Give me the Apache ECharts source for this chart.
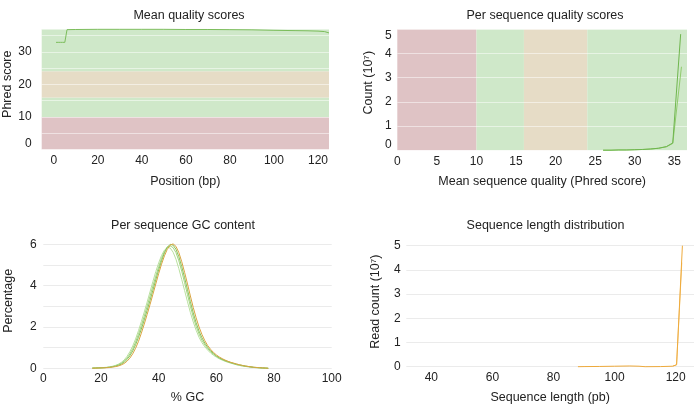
<!DOCTYPE html>
<html><head><meta charset="utf-8">
<script src="https://cdn.jsdelivr.net/npm/echarts@6.0.0/dist/echarts.min.js"></script>
<style>html,body{margin:0;padding:0;background:#fff}#c{width:697px;height:405px}</style>
</head><body><div id="c"></div>
<script>
// ---- Data ----
// Mean quality scores (position bp, mean phred)
const posX  = [1, 2, 3, 4, 5, 6, 10, 20, 30, 40, 50, 60, 70, 80, 90, 100, 110, 115, 120, 123, 125];
const meanQ = [32.9, 32.9, 32.9, 32.9, 32.9, 36.8, 36.85, 36.9, 36.9, 36.9, 36.9, 36.85, 36.85, 36.8, 36.75, 36.6, 36.5, 36.45, 36.35, 36.2, 35.8];
// Phred band thresholds (shared by the two quality charts)
const phredBands = [0, 10, 16, 24];
// Per sequence quality scores (mean phred, count 10^7), two samples
const seqQX1 = [26, 27, 28, 29, 30, 31, 32, 33, 34, 34.8, 35.8];
const seqQY1 = [0.0, 0.0, 0.01, 0.01, 0.02, 0.03, 0.05, 0.08, 0.15, 0.3, 4.8];
const seqQX2 = [26, 27, 28, 29, 30, 31, 32, 33, 34, 34.8, 35.9];
const seqQY2 = [0.0, 0.0, 0.01, 0.01, 0.02, 0.03, 0.05, 0.08, 0.14, 0.28, 3.45];
// Per sequence GC content (%GC 17..78, percentage)
const gcX = [17,18,19,20,21,22,23,24,25,26,27,28,29,30,31,32,33,34,35,36,37,38,39,40,41,42,43,44,45,46,47,48,49,50,51,52,53,54,55,56,57,58,59,60,61,62,63,64,65,66,67,68,69,70,71,72,73,74,75,76,77,78];
const gcA = [0.01,0.01,0.02,0.02,0.03,0.04,0.05,0.07,0.10,0.14,
             0.20,0.29,0.42,0.60,0.84,1.14,1.50,1.90,2.34,2.80,
             3.28,3.78,4.28,4.76,5.20,5.58,5.86,6.00,5.96,5.76,
             5.40,4.92,4.38,3.80,3.22,2.68,2.20,1.80,1.48,1.22,
             1.02,0.86,0.72,0.60,0.51,0.44,0.38,0.33,0.28,0.24,
             0.20,0.17,0.14,0.11,0.09,0.07,0.05,0.04,0.03,0.02,
             0.01,0.00];
const gcB = [0.01,0.02,0.02,0.03,0.04,0.05,0.07,0.10,0.14,0.20,
             0.28,0.40,0.57,0.80,1.08,1.42,1.82,2.26,2.72,3.20,
             3.70,4.20,4.68,5.10,5.46,5.72,5.85,5.82,5.62,5.28,
             4.82,4.30,3.76,3.22,2.70,2.24,1.84,1.50,1.24,1.04,
             0.88,0.74,0.63,0.54,0.46,0.40,0.34,0.29,0.25,0.21,
             0.17,0.14,0.11,0.09,0.07,0.05,0.04,0.03,0.02,0.01,
             0.01,0.00];
const gcC = [0.01,0.01,0.02,0.02,0.03,0.04,0.06,0.08,0.12,0.17,
             0.24,0.34,0.49,0.69,0.95,1.27,1.65,2.07,2.52,3.00,
             3.49,3.98,4.46,4.92,5.32,5.65,5.86,5.92,5.84,5.60,
             5.20,4.70,4.14,3.56,3.00,2.48,2.03,1.66,1.36,1.13,
             0.95,0.80,0.68,0.58,0.49,0.42,0.36,0.31,0.26,0.22,
             0.18,0.15,0.12,0.10,0.08,0.06,0.04,0.03,0.02,0.01,
             0.01,0.00];
const gcD = [0.00,0.01,0.01,0.02,0.02,0.03,0.04,0.06,0.08,0.11,
             0.16,0.23,0.34,0.49,0.70,0.97,1.30,1.70,2.14,2.60,
             3.08,3.58,4.08,4.58,5.04,5.44,5.76,5.96,6.02,5.90,
             5.60,5.16,4.64,4.08,3.50,2.94,2.44,2.00,1.64,1.34,
             1.10,0.92,0.77,0.65,0.55,0.47,0.40,0.34,0.29,0.25,
             0.21,0.17,0.14,0.11,0.09,0.07,0.05,0.04,0.03,0.02,
             0.01,0.00];
// Sequence length distribution (length pb, read count 10^7)
const lenX1 = [88, 90, 95, 100, 105, 108, 110, 115, 119, 120.3, 122.2];
const lenY1 = [0.0, 0.005, 0.01, 0.02, 0.03, 0.02, 0.0, 0.005, 0.02, 0.08, 5.0];
const lenX2 = [119, 120.3, 122.0];
const lenY2 = [0.02, 0.08, 4.3];
// Tick labels
const posTicks = [0, 20, 40, 60, 80, 100, 120];
const lenTicks = [40, 60, 80, 100, 120];

// ---- Styles ----
const FONT = '"Liberation Sans", Arial, Helvetica, sans-serif';
const TXT = '#222';
const RED = '#dfc3c5', GREEN = '#cfe8c9', BEIGE = '#e6dcc6';
const bandColors = [RED, GREEN, BEIGE, GREEN];
const zip = (xs, ys) => xs.map((x, i) => [x, ys[i]]);

function bandAreas(dim, maxVal) {
  const edges = phredBands.concat([maxVal]);
  const out = [];
  for (let i = 0; i < phredBands.length; i++) {
    const a = {}; a[dim] = edges[i]; a.itemStyle = {color: bandColors[i], opacity: 1};
    const b = {}; b[dim] = edges[i + 1];
    out.push([a, b]);
  }
  return out;
}

const lbl = (extra) => Object.assign({color: TXT, fontSize: 12, fontFamily: FONT}, extra || {});
const nameStyle = (extra) => Object.assign({color: TXT, fontSize: 12.5, fontFamily: FONT}, extra || {});
const noLine = {show: false};

const option = {
  animation: false,
  textStyle: {fontFamily: FONT},
  title: [
    {text: 'Mean quality scores', left: 189, top: 9, textAlign: 'center', padding: 0,
     textStyle: {fontSize: 12.5, fontWeight: 'normal', color: TXT, fontFamily: FONT}},
    {text: 'Per sequence quality scores', left: 545, top: 9, textAlign: 'center', padding: 0,
     textStyle: {fontSize: 12.5, fontWeight: 'normal', color: TXT, fontFamily: FONT}},
    {text: 'Per sequence GC content', left: 183, top: 219.5, textAlign: 'center', padding: 0,
     textStyle: {fontSize: 12.5, fontWeight: 'normal', color: TXT, fontFamily: FONT}},
    {text: 'Sequence length distribution', left: 545.5, top: 219.5, textAlign: 'center', padding: 0,
     textStyle: {fontSize: 12.5, fontWeight: 'normal', color: TXT, fontFamily: FONT}}
  ],
  grid: [
    {left: 41.7, top: 29, width: 287.3, height: 120.5, outerBoundsMode: 'none'},
    {left: 397.3, top: 29.3, width: 289.7, height: 120.9, outerBoundsMode: 'none'},
    {left: 43.3, top: 244.3, width: 288.4, height: 124, outerBoundsMode: 'none'},
    {left: 406.3, top: 245.7, width: 287.7, height: 121, outerBoundsMode: 'none'}
  ],
  xAxis: [
    {gridIndex: 0, type: 'value', min: -5.5, max: 125,
     name: 'Position (bp)', nameLocation: 'middle', nameGap: 25.5, nameTextStyle: nameStyle(),
     axisLine: noLine, axisTick: noLine, splitLine: noLine,
     axisLabel: lbl({margin: 5, customValues: posTicks})},
    {gridIndex: 1, type: 'value', min: 0, max: 36.6, interval: 5,
     name: 'Mean sequence quality (Phred score)', nameLocation: 'middle', nameGap: 25, nameTextStyle: nameStyle(),
     axisLine: noLine, axisTick: noLine, splitLine: noLine,
     axisLabel: lbl({margin: 5, formatter: v => (v % 5 === 0 ? String(v) : '')})},
    {gridIndex: 2, type: 'value', min: 0, max: 100, interval: 20,
     name: '% GC', nameLocation: 'middle', nameGap: 22.5, nameTextStyle: nameStyle(),
     axisLine: noLine, axisTick: noLine, splitLine: noLine,
     axisLabel: lbl({margin: 4})},
    {gridIndex: 3, type: 'value', min: 31.8, max: 126,
     name: 'Sequence length (pb)', nameLocation: 'middle', nameGap: 24, nameTextStyle: nameStyle(),
     axisLine: noLine, axisTick: noLine, splitLine: noLine,
     axisLabel: lbl({margin: 5, customValues: lenTicks})}
  ],
  yAxis: [
    {gridIndex: 0, type: 'value', min: 0, max: 37, interval: 5,
     name: 'Phred score', nameLocation: 'middle', nameGap: 26.5, nameTextStyle: nameStyle({padding: [0, 0, 0, 10]}),
     axisLine: noLine, axisTick: noLine,
     splitLine: {show: true, lineStyle: {color: 'rgba(255,255,255,0.5)', width: 1}},
     axisLabel: lbl({margin: 10, verticalAlignMinLabel: 'bottom', formatter: v => (v % 10 === 0 ? String(v) : '')})},
    {gridIndex: 1, type: 'value', min: 0, max: 5, interval: 1,
     name: 'Count (10\u2077)', nameLocation: 'middle', nameGap: 22.5, nameTextStyle: nameStyle({padding: [0, 0, 0, 14]}),
     axisLine: noLine, axisTick: noLine,
     splitLine: {show: true, lineStyle: {color: 'rgba(255,255,255,0.5)', width: 1}},
     axisLabel: lbl({margin: 5.6, verticalAlignMinLabel: 'bottom', verticalAlignMaxLabel: 'top'})},
    {gridIndex: 2, type: 'value', min: 0, max: 6, interval: 1,
     name: 'Percentage', nameLocation: 'middle', nameGap: 28, nameTextStyle: nameStyle({padding: [0, 0, 0, 11]}),
     axisLine: noLine, axisTick: noLine,
     splitLine: {show: true, lineStyle: {color: '#ebebeb', width: 1}},
     axisLabel: lbl({margin: 6.6, formatter: v => (v % 2 === 0 ? String(v) : '')})},
    {gridIndex: 3, type: 'value', min: 0, max: 5, interval: 1,
     name: 'Read count (10\u2077)', nameLocation: 'middle', nameGap: 24, nameTextStyle: nameStyle({padding: [0, 0, 0, 9]}),
     axisLine: noLine, axisTick: noLine,
     splitLine: {show: true, lineStyle: {color: '#ebebeb', width: 1}},
     axisLabel: lbl({margin: 5.6})}
  ],
  series: [
    {type: 'line', xAxisIndex: 0, yAxisIndex: 0, data: zip(posX, meanQ), showSymbol: false, silent: true,
     lineStyle: {color: '#7cbd5c', width: 1}, clip: false,
     markArea: {z: -1, silent: true, data: bandAreas('yAxis', 37)}},
    {type: 'line', xAxisIndex: 1, yAxisIndex: 1, data: zip(seqQX2, seqQY2), showSymbol: false, silent: true,
     lineStyle: {color: '#8fcb6c', width: 1}, clip: false},
    {type: 'line', xAxisIndex: 1, yAxisIndex: 1, data: zip(seqQX1, seqQY1), showSymbol: false, silent: true,
     lineStyle: {color: '#6fb64e', width: 1}, clip: false,
     markArea: {z: -1, silent: true, data: bandAreas('xAxis', 36.6)}},
    {type: 'line', xAxisIndex: 2, yAxisIndex: 2, data: zip(gcX, gcB), showSymbol: false, silent: true,
     lineStyle: {color: '#b9e09f', width: 1}, clip: false},
    {type: 'line', xAxisIndex: 2, yAxisIndex: 2, data: zip(gcX, gcC), showSymbol: false, silent: true,
     lineStyle: {color: '#a3d37f', width: 1}, clip: false},
    {type: 'line', xAxisIndex: 2, yAxisIndex: 2, data: zip(gcX, gcA), showSymbol: false, silent: true,
     lineStyle: {color: '#86c25c', width: 1}, clip: false},
    {type: 'line', xAxisIndex: 2, yAxisIndex: 2, data: zip(gcX, gcD), showSymbol: false, silent: true,
     lineStyle: {color: '#d9a441', width: 1}, clip: false},
    {type: 'line', xAxisIndex: 3, yAxisIndex: 3, data: zip(lenX2, lenY2), showSymbol: false, silent: true,
     lineStyle: {color: '#f5c878', width: 1}, clip: false},
    {type: 'line', xAxisIndex: 3, yAxisIndex: 3, data: zip(lenX1, lenY1), showSymbol: false, silent: true,
     lineStyle: {color: '#eeaa3c', width: 1}, clip: false}
  ]
};

const chart = echarts.init(document.getElementById('c'), null, {renderer: 'canvas', width: 697, height: 405});
chart.setOption(option);
</script></body></html>
